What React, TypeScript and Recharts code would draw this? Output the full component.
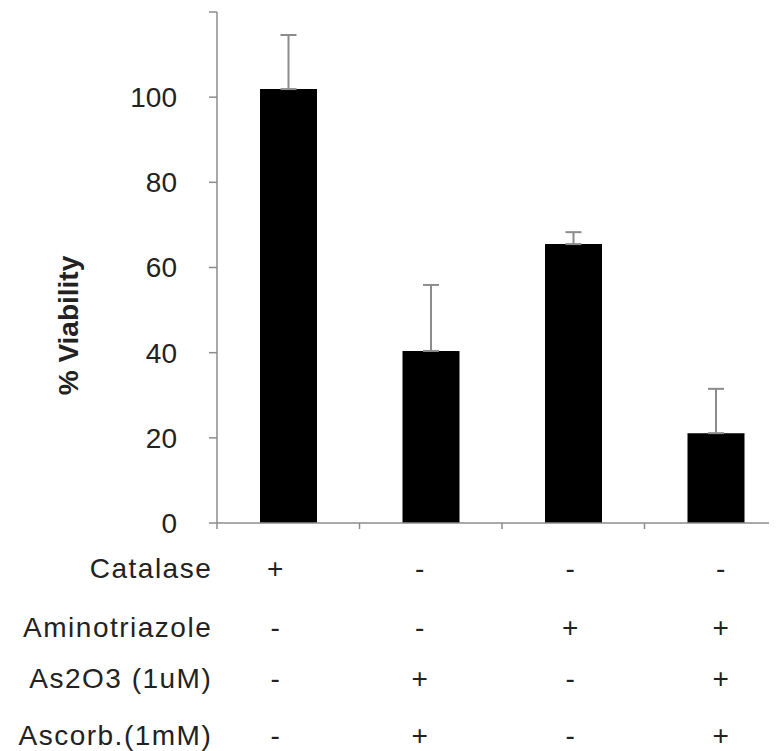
import { BarChart, Bar, XAxis, YAxis, ErrorBar } from "recharts";

// treatment groups, left to right
const groups = ["g1", "g2", "g3", "g4"];
const viability = [101.9, 40.4, 65.5, 21.1];
const sd = [12.7, 15.5, 2.8, 10.4];

const rowLabels = ["Catalase", "Aminotriazole", "As2O3 (1uM)", "Ascorb.(1mM)"];
// per group: Catalase, Aminotriazole, As2O3, Ascorbate
const treatments = [
  ["+", "-", "-", "-"],
  ["-", "-", "+", "+"],
  ["-", "+", "-", "-"],
  ["-", "+", "+", "+"],
];

const yTicks = [0, 20, 40, 60, 80, 100, 120];

const data = groups.map((g, i) => ({
  group: g,
  value: viability[i],
  err: [0, sd[i]],
}));

const AXIS = "#8c8c8c";
const TEXT = "#222";
const FONT = "'Liberation Sans', Arial, sans-serif";

// layout of the treatment table under the axis
const ROW_DY = [45, 104, 155, 212];
const COL_NUDGE = [-13, -11, -3, 5];

const TableTick = ({ x, y, index, payload }: any) => {
  const half = payload?.offset || 71.25;
  return (
    <g fontFamily={FONT} fontSize={28} fill={TEXT}>
      {/* tick mark on the left edge of each group */}
      <line x1={x - half} x2={x - half} y1={y} y2={y + 6} stroke={AXIS} strokeWidth={1.5} />
      {index === 0 &&
        rowLabels.map((l, r) => (
          <text
            key={l}
            x={x - 76}
            y={y + ROW_DY[r]}
            dy="0.36em"
            textAnchor="end"
            letterSpacing={1.5}
          >
            {l}
          </text>
        ))}
      {treatments[index].map((s, r) => (
        <text
          key={r}
          x={x + COL_NUDGE[index]}
          y={y + ROW_DY[r]}
          dy="0.36em"
          textAnchor="middle"
        >
          {s}
        </text>
      ))}
    </g>
  );
};

const YLabel = ({ viewBox }: any) => {
  const cx = 60;
  const cy = viewBox.y + viewBox.height / 2 + 58;
  return (
    <text
      x={cx}
      y={cy}
      transform={`rotate(-90 ${cx} ${cy})`}
      textAnchor="middle"
      dy="0.36em"
      fontFamily={FONT}
      fontSize={28}
      fontWeight="bold"
      fill={TEXT}
    >
      % Viability
    </text>
  );
};

export default function App() {
  return (
    <div style={{ width: 769, height: 743, overflow: "hidden", background: "#fff" }}>
      <BarChart
        width={790}
        height={743}
        data={data}
        margin={{ top: 4, right: 11, bottom: 0, left: 0 }}
        barCategoryGap={0}
      >
        <XAxis
          dataKey="group"
          height={228}
          axisLine={{ stroke: AXIS, strokeWidth: 1.5 }}
          tickLine={false}
          tickSize={0}
          tickMargin={0}
          interval={0}
          tick={<TableTick />}
        />
        <YAxis
          width={209}
          domain={[0, 120]}
          ticks={yTicks}
          interval={0}
          tickSize={8}
          tickMargin={32}
          axisLine={{ stroke: AXIS, strokeWidth: 1.5 }}
          tickLine={{ stroke: AXIS, strokeWidth: 1.5 }}
          tickFormatter={(v) => (v === 120 ? "" : String(v))}
          tick={{ fontSize: 28, fill: TEXT, fontFamily: FONT }}
          label={{ content: <YLabel /> }}
        />
        <Bar dataKey="value" fill="#000" barSize={57} isAnimationActive={false}>
          <ErrorBar
            dataKey="err"
            direction="y"
            width={8}
            stroke={AXIS}
            strokeWidth={2}
            isAnimationActive={false}
          />
        </Bar>
      </BarChart>
    </div>
  );
}
